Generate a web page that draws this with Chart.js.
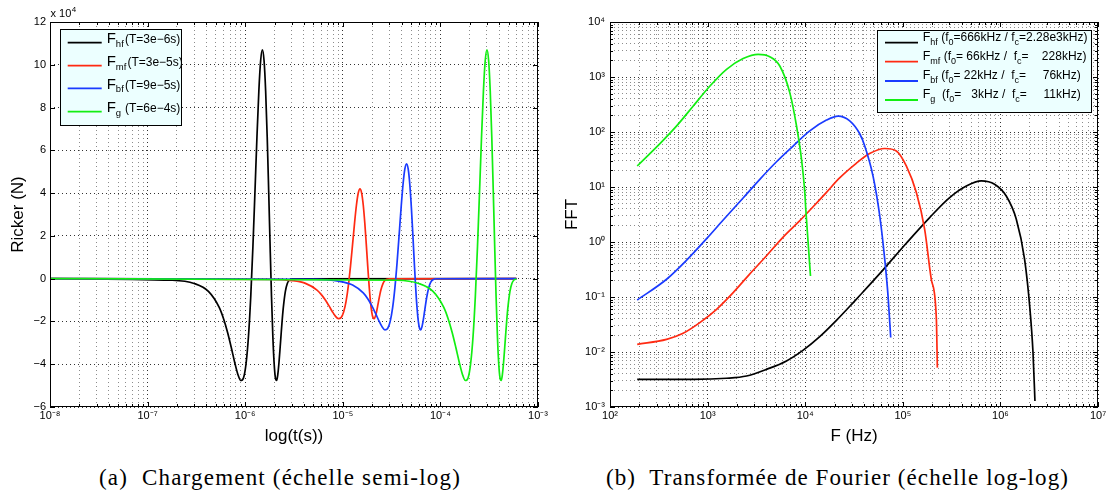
<!DOCTYPE html>
<html><head><meta charset="utf-8">
<script src="https://cdn.jsdelivr.net/npm/chart.js@4.4.1/dist/chart.umd.min.js"></script>
<style>
html,body{margin:0;padding:0;background:#fff;}
#wrap{position:relative;width:1110px;height:495px;overflow:hidden;background:#fff;}
canvas{position:absolute;top:0;}
#c1{left:0;} #c2{left:556px;}
.cap{position:absolute;top:466px;font-family:"Liberation Serif","Times New Roman",serif;font-size:23px;line-height:23px;white-space:pre;color:#000;}
</style></head><body>
<div id="wrap">
<canvas id="c1" width="556" height="455"></canvas>
<canvas id="c2" width="554" height="455"></canvas>
<div class="cap" id="capA">(a)  Chargement (échelle semi-log)</div>
<div class="cap" id="capB">(b)  Transformée de Fourier (échelle log-log)</div>
</div>
<script>
// ================= DATA =================
// (a) Ricker loading, time in microseconds, force in N
const tHf_us = [0.01,0.18,0.30,0.42,0.54,0.60,0.66,0.72,0.78,0.84,0.90,0.96,1.02,1.08,1.14,1.20,1.26,1.32,1.38,1.44,1.50,1.56,1.62,1.68,1.74,1.80,1.86,1.92,1.98,2.04,2.10,2.16,2.22,2.28,2.34,2.40,2.46,2.58,2.70,2.82,3.00,600];
const fHf = [0,-740,-2250,-5920,-13300,-18700,-25150,-32170,-39070,-44660,-47620,-46400,-39770,-27020,-8300,15170,41110,66440,87760,101990,107000,101990,87760,66440,41110,15170,-8300,-27020,-39770,-46400,-47620,-44660,-39070,-32170,-25150,-18700,-13300,-5920,-2250,-740,-100,0];

const tMf_us = [0.01,1.8,3.0,4.2,5.4,6.0,6.6,7.2,7.8,8.4,9.0,9.6,10.2,10.8,11.4,12.0,12.6,13.2,13.8,14.4,15.0,15.6,16.2,16.8,17.4,18.0,18.6,19.2,19.8,20.4,21.0,21.6,22.2,22.8,23.4,24.0,24.6,25.8,27.0,28.2,30.0,600];
const fMf = [0,-290,-880,-2320,-5220,-7340,-9870,-12630,-15330,-17530,-18690,-18210,-15610,-10610,-3260,5960,16140,26080,34450,40030,42000,40030,34450,26080,16140,5960,-3260,-10610,-15610,-18210,-18690,-17530,-15330,-12630,-9870,-7340,-5220,-2320,-880,-290,-40,0];

const tBf_us = [0.01,5.4,9.0,12.6,16.2,18.0,19.8,21.6,23.4,25.2,27.0,28.8,30.6,32.4,34.2,36.0,37.8,39.6,41.4,43.2,45.0,46.8,48.6,50.4,52.2,54.0,55.8,57.6,59.4,61.2,63.0,64.8,66.6,68.4,70.2,72.0,73.8,77.4,81.0,84.6,90.0,600];
const fBf = [0,-370,-1130,-2970,-6680,-9390,-12620,-16150,-19610,-22410,-23900,-23280,-19960,-13560,-4170,7610,20630,33340,44040,51190,53700,51190,44040,33340,20630,7610,-4170,-13560,-19960,-23280,-23900,-22410,-19610,-16150,-12620,-9390,-6680,-2970,-1130,-370,-50,0];

const tG_us = [0.01,36,60,84,108,120,132,144,156,168,180,192,204,216,228,240,252,264,276,288,300,312,324,336,348,360,372,384,396,408,420,432,444,456,468,480,492,516,540,564,600];
const fG = [0,-740,-2250,-5920,-13300,-18700,-25150,-32170,-39070,-44660,-47620,-46400,-39770,-27020,-8300,15170,41110,66440,87760,101990,107000,101990,87760,66440,41110,15170,-8300,-27020,-39770,-46400,-47620,-44660,-39070,-32170,-25150,-18700,-13300,-5920,-2250,-740,-100];

// (b) Fourier transforms, frequency in Hz
const nuHf = [190,713,1563,2506,4018,6427,9550,14090,20890,30900,36220,62810,108600,188400,302000,447700,638300,871000,1148000,1455000,1770000,1995000,2158000,2259000];
const sHf  = [0.00318,0.00318,0.00333,0.00366,0.00484,0.00687,0.0108,0.0190,0.0376,0.0784,0.1064,0.312,0.95,2.78,6.41,10.4,12.9,11.2,6.86,2.59,0.484,0.0686,0.00977,0.00129];

const nuMf = [190,380,562,832,1236,1828,2710,4018,5943,8810,11590,16520,22390,33110,45710,65310,85900,108600,137700,167500,195900,220800,225900];
const sMf  = [0.0138,0.0170,0.0219,0.0342,0.0597,0.120,0.263,0.562,1.23,2.45,4.07,8.0,14.5,26.7,40.5,50.1,45.2,24.1,7.91,1.70,0.210,0.0394,0.0052];

const nuBf = [190,380,610,977,1445,2312,3428,5082,7516,11143,16520,21730,28580,36220,40740,49550,58080,65310,70630,75160];
const sBf  = [0.088,0.21,0.468,1.15,2.51,6.31,13.8,28.8,55.6,105,165,195,160,93,55.8,15.8,2.97,0.484,0.104,0.0183];

const nuG = [190,325,482,713,1057,1563,2312,3296,4335,5495,6950,8147,9162,9908,10140,10715,11324];
const sG  = [24.1,61.5,129,297,685,1380,2163,2588,2344,1585,520,129,32,7.9,3.94,0.975,0.241];

// legends and tick labels
const seriesColors = ['#000000','#ff2a12','#1a3bff','#12ee12'];
const legendA = ['F_{hf} (T=3e\u22126s)','F_{mf} (T=3e\u22125s)','F_{bf} (T=9e\u22125s)','F_{g}  (T=6e\u22124s)'];
const legendB = ['F_{hf} (f_{0}=666kHz / f_{c}=2.28e3kHz)','F_{mf} (f_{0}= 66kHz /  f_{c}=    228kHz)','F_{bf} (f_{0}= 22kHz /  f_{c}=     76kHz)','F_{g}  (f_{0}=   3kHz /  f_{c}=     11kHz)'];
const axA_xDecades = [-8,-7,-6,-5,-4,-3];
const axA_xLabels = ['10\u207B\u2078','10\u207B\u2077','10\u207B\u2076','10\u207B\u2075','10\u207B\u2074','10\u207B\u00B3'];
const axA_yTicks = [-60000,-40000,-20000,0,20000,40000,60000,80000,100000,120000];
const axA_yLabels = ['\u22126','\u22124','\u22122','0','2','4','6','8','10','12'];
const axB_xDecades = [2,3,4,5,6,7];
const axB_xLabels = ['10\u00B2','10\u00B3','10\u2074','10\u2075','10\u2076','10\u2077'];
const axB_yDecades = [-3,-2,-1,0,1,2,3,4];
const axB_yLabels = ['10\u207B\u00B3','10\u207B\u00B2','10\u207B\u00B9','10\u2070','10\u00B9','10\u00B2','10\u00B3','10\u2074'];

// ================= RENDER =================
const FONT = '"Liberation Sans", Arial, Helvetica, sans-serif';
Chart.defaults.font.family = FONT;
Chart.defaults.color = '#000';
const MAJ = 'rgba(0,0,0,0.8)', MIN = 'rgba(0,0,0,0.45)';

function logTicks(decades, labels) {
  const out = [];
  decades.forEach((d, k) => {
    if (k === decades.length - 1) { out.push({value: Math.pow(10, d), major: true, lab: labels[k]}); return; }
    for (let m = 1; m <= 9; m++) out.push({value: m * Math.pow(10, d), major: m === 1, lab: m === 1 ? labels[k] : ''});
  });
  return out;
}
function pts(xs, ys, k) { return xs.map((x, i) => ({x: x * (k || 1), y: ys[i]})); }

function drawRich(ctx, str, x, y, c) {
  ctx.fillStyle = '#000'; ctx.textBaseline = 'alphabetic'; ctx.textAlign = 'left';
  const parts = str.split(/(_\{[^}]*\})/).filter(Boolean);
  let cx = x;
  parts.forEach((p, idx) => {
    if (p.startsWith('_{')) {
      const t = p.slice(2, -1);
      ctx.font = c.sub + 'px ' + FONT; ctx.fillText(t, cx, y + c.subDy); cx += ctx.measureText(t).width;
    } else {
      let t = p;
      if (idx === 0 && t[0] === 'F') { ctx.font = c.big + 'px ' + FONT; ctx.fillText('F', cx, y); cx += ctx.measureText('F').width; t = t.slice(1); }
      if (idx === 2 && c.px) { t = t.replace(/^\s+/, ''); cx = Math.max(c.px, cx + 1); }
      if (t) { ctx.font = c.txt + 'px ' + FONT; ctx.fillText(t, cx, y); cx += ctx.measureText(t).width; }
    }
  });
}

const framePlugin = {
  id: 'frame',
  afterDatasetsDraw(chart) {
    const {ctx, chartArea: a, scales} = chart;
    ctx.save(); ctx.strokeStyle = '#000'; ctx.lineWidth = 1; ctx.setLineDash([]);
    ctx.beginPath();
    scales.x.ticks.forEach(t => {
      const p = Math.round(scales.x.getPixelForValue(t.value)) + 0.5;
      const L = t.major ? 5 : 3;
      ctx.moveTo(p, a.bottom); ctx.lineTo(p, a.bottom - L);
      ctx.moveTo(p, a.top); ctx.lineTo(p, a.top + L);
    });
    scales.y.ticks.forEach(t => {
      const p = Math.round(scales.y.getPixelForValue(t.value)) + 0.5;
      const L = t.major ? 5 : 3;
      ctx.moveTo(a.left, p); ctx.lineTo(a.left + L, p);
      ctx.moveTo(a.right, p); ctx.lineTo(a.right - L, p);
    });
    ctx.stroke();
    ctx.strokeRect(a.left + 0.5, a.top + 0.5, a.right - a.left - 1, a.bottom - a.top - 1);
    ctx.restore();
  }
};

function legendPlugin(cfg, items) {
  return { id: 'lg', afterDraw(chart) {
    const ctx = chart.ctx; ctx.save();
    ctx.fillStyle = '#ecffff'; ctx.fillRect(cfg.x, cfg.y, cfg.w, cfg.h);
    ctx.strokeStyle = '#000'; ctx.lineWidth = 1; ctx.strokeRect(cfg.x + 0.5, cfg.y + 0.5, cfg.w - 1, cfg.h - 1);
    items.forEach((txt, i) => {
      const y = cfg.rows[i];
      ctx.strokeStyle = seriesColors[i]; ctx.lineWidth = 1.8; ctx.beginPath();
      ctx.moveTo(cfg.lx0, y); ctx.lineTo(cfg.lx1, y); ctx.stroke();
      drawRich(ctx, txt, cfg.tx, y + cfg.dy, cfg);
    });
    ctx.restore();
  }};
}

const expPlugin = { id: 'exp', afterDraw(chart) {
  const ctx = chart.ctx; ctx.save(); ctx.fillStyle = '#000'; ctx.textBaseline = 'alphabetic';
  ctx.font = '11px ' + FONT; ctx.fillText('x 10', 50.5, 17);
  const w = ctx.measureText('x 10').width;
  ctx.font = '8px ' + FONT; ctx.fillText('4', 50.5 + w + 0.5, 12);
  ctx.restore();
}};

// series drawn with the last one on top (order: lower value drawn later)
function lineDS(label, data, i) {
  return { label, data, borderColor: seriesColors[i], backgroundColor: seriesColors[i], borderWidth: 1.7,
           pointRadius: 0, fill: false, cubicInterpolationMode: 'monotone', order: 3 - i };
}
function gridOpts() {
  return { drawTicks: false, lineWidth: 1, color: c => (c.tick && c.tick.major) ? MAJ : MIN };
}

// ---- chart (a)
new Chart(document.getElementById('c1'), {
  type: 'line',
  data: { datasets: [
    lineDS('F_hf', pts(tHf_us, fHf, 1e-6), 0),
    lineDS('F_mf', pts(tMf_us, fMf, 1e-6), 1),
    lineDS('F_bf', pts(tBf_us, fBf, 1e-6), 2),
    lineDS('F_g',  pts(tG_us,  fG,  1e-6), 3)
  ]},
  options: {
    responsive: false, animation: false, devicePixelRatio: 1,
    layout: { padding: { top: 22, right: 18, left: 0, bottom: 0 } },
    plugins: { legend: { display: false }, tooltip: { enabled: false } },
    scales: {
      x: { type: 'logarithmic', min: 1e-8, max: 1e-3,
           afterBuildTicks: s => { s.ticks = logTicks(axA_xDecades, axA_xLabels); },
           afterFit: s => { s.height = 48; },
           ticks: { autoSkip: false, maxRotation: 0, padding: 2, font: { size: 11 }, callback: (v, i, t) => t[i].lab },
           grid: gridOpts(), border: { display: false, dash: [1, 3] },
           title: { display: true, text: 'log(t(s))', font: { size: 17 }, padding: { top: 0, bottom: 8 } } },
      y: { type: 'linear', min: -60000, max: 120000,
           afterBuildTicks: s => { s.ticks = axA_yTicks.map((v, i) => ({value: v, major: true, lab: axA_yLabels[i]})); },
           afterFit: s => { s.width = 50; },
           ticks: { autoSkip: false, padding: 4, font: { size: 11 }, callback: (v, i, t) => t[i].lab },
           grid: gridOpts(), border: { display: false, dash: [1, 3] },
           title: { display: true, text: 'Ricker (N)', font: { size: 17 }, padding: { top: 8, bottom: 0 } } }
    }
  },
  plugins: [framePlugin, expPlugin, legendPlugin({x: 60, y: 29, w: 122, h: 97, rows: [42.7, 65.7, 88.3, 111.7],
    lx0: 67.7, lx1: 101.7, tx: 106.7, px: 125, dy: 0.5, big: 15, txt: 12, sub: 9.5, subDy: 3.5}, legendA)]
});

// ---- chart (b)
new Chart(document.getElementById('c2'), {
  type: 'line',
  data: { datasets: [
    lineDS('F_hf', pts(nuHf, sHf), 0),
    lineDS('F_mf', pts(nuMf, sMf), 1),
    lineDS('F_bf', pts(nuBf, sBf), 2),
    lineDS('F_g',  pts(nuG,  sG),  3)
  ]},
  options: {
    responsive: false, animation: false, devicePixelRatio: 1,
    layout: { padding: { top: 22, right: 12, left: 0, bottom: 0 } },
    plugins: { legend: { display: false }, tooltip: { enabled: false } },
    scales: {
      x: { type: 'logarithmic', min: 1e2, max: 1e7,
           afterBuildTicks: s => { s.ticks = logTicks(axB_xDecades, axB_xLabels); },
           afterFit: s => { s.height = 48; },
           ticks: { autoSkip: false, maxRotation: 0, padding: 2, font: { size: 11 }, callback: (v, i, t) => t[i].lab },
           grid: gridOpts(), border: { display: false, dash: [1, 3] },
           title: { display: true, text: 'F (Hz)', font: { size: 17 }, padding: { top: 0, bottom: 8 } } },
      y: { type: 'logarithmic', min: 1e-3, max: 1e4,
           afterBuildTicks: s => { s.ticks = logTicks(axB_yDecades, axB_yLabels); },
           afterFit: s => { s.width = 54; },
           ticks: { autoSkip: false, padding: 5, font: { size: 11 }, callback: (v, i, t) => t[i].lab },
           grid: gridOpts(), border: { display: false, dash: [1, 3] },
           title: { display: true, text: 'FFT', font: { size: 17 }, padding: { top: 6, bottom: 0 } } }
    }
  },
  plugins: [framePlugin, legendPlugin({x: 321, y: 30, w: 215, h: 83, rows: [42.7, 61.7, 81, 100],
    lx0: 329, lx1: 362, tx: 366.7, dy: -2, big: 12.5, txt: 12, sub: 9, subDy: 4}, legendB)]
});

// captions
function fitCaption(id, left, width) {
  const el = document.getElementById(id);
  el.style.left = left + 'px';
  const w0 = el.getBoundingClientRect().width;
  el.style.letterSpacing = ((width - w0) / el.textContent.length) + 'px';
}
fitCaption('capA', 99, 362);
fitCaption('capB', 606, 463);
</script>
</body></html>
